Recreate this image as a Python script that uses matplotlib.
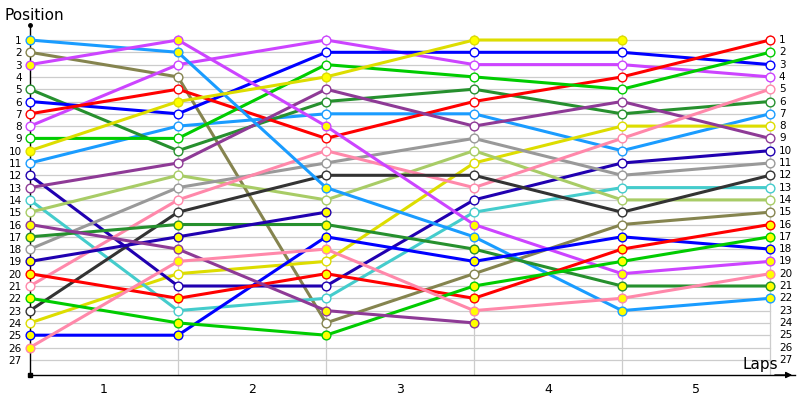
import numpy as np
import matplotlib
matplotlib.use("Agg")
import matplotlib.pyplot as plt

# lap boundaries (0 = start grid) and positions per driver; None = retired
laps = [0, 1, 2, 3, 4, 5]
lap_labels = ["1", "2", "3", "4", "5"]
n_positions = 27

drivers = ["lb_w", "olive_w", "violet_w", "dgreen_w", "blue_w", "red_w", "green_w",
           "yellow_w", "dblue_w", "purple_w", "turq_w", "lgreen_w", "gray_w", "pink_w", "black_w",
           "lb_y", "violet_y", "dgreen_y", "blue_y", "red_y", "green_y", "yellow_y",
           "dblue_y", "purple_y", "pink_y"]

positions = {
    "lb_w":     [11, 8, 7, 7, 10, 7],
    "olive_w":  [2, 4, 24, 20, 16, 15],
    "violet_w": [8, 3, 1, 3, 3, 4],
    "dgreen_w": [5, 10, 6, 5, 7, 6],
    "blue_w":   [6, 7, 2, 2, 2, 3],
    "red_w":    [7, 5, 9, 6, 4, 1],
    "green_w":  [9, 9, 3, 4, 5, 2],
    "yellow_w": [24, 20, 19, 11, 8, 8],
    "dblue_w":  [12, 21, 21, 14, 11, 10],
    "purple_w": [13, 11, 5, 8, 6, 9],
    "turq_w":   [14, 23, 22, 15, 13, 13],
    "lgreen_w": [15, 12, 14, 10, 14, 14],
    "gray_w":   [18, 13, 11, 9, 12, 11],
    "pink_w":   [21, 14, 10, 13, 9, 5],
    "black_w":  [23, 15, 12, 12, 15, 12],
    "lb_y":     [1, 2, 13, 17, 23, 22],
    "violet_y": [3, 1, 8, 16, 20, 19],
    "dgreen_y": [17, 16, 16, 18, 21, 21],
    "blue_y":   [25, 25, 17, 19, 17, 18],
    "red_y":    [20, 22, 20, 22, 18, 16],
    "green_y":  [22, 24, 25, 21, 19, 17],
    "yellow_y": [10, 6, 4, 1, 1, None],
    "dblue_y":  [19, 17, 15, None, None, None],
    "purple_y": [16, 18, 23, 24, None, None],
    "pink_y":   [26, 19, 18, 23, 22, 20],
}

colors = {
    "lb": "#1a9cff", "olive": "#85844f", "violet": "#cc44ff", "dgreen": "#26902e",
    "blue": "#0000ff", "red": "#ff0000", "green": "#00cc00", "yellow": "#dddd00",
    "dblue": "#2000b0", "purple": "#8e3a96", "turq": "#44cccc", "lgreen": "#a8cc66",
    "gray": "#999999", "pink": "#ff88aa", "black": "#333333",
}
faces = {"w": "white", "y": "#ffff00"}

fig = plt.figure(figsize=(8, 4), dpi=100)
ax = fig.add_axes([30 / 800, 25 / 400, 765 / 800, 350 / 400])
ax.set_xlim(0, 765 / 148)
ax.set_ylim(1 + 335 / 12.3, 1 - 15 / 12.3)

# grid
for p in range(1, n_positions + 1):
    ax.plot([0, 5], [p, p], color="#cccccc", lw=0.9, zorder=0)
for lp in laps[1:]:
    ax.axvline(lp, ymax=1 - 10 / 350, color="#cccccc", lw=0.9, zorder=0)

for d in drivers:
    team, kind = d.rsplit("_", 1)
    pos = positions[d]
    xs = [x for x, p in zip(laps, pos) if p is not None]
    ys = [p for p in pos if p is not None]
    ax.plot(xs, ys, color=colors[team], lw=2.2, marker="o", ms=6.3,
            mfc=faces[kind], mec=colors[team], mew=1.0, zorder=3, clip_on=False)

ax.spines["top"].set_visible(False)
ax.spines["right"].set_visible(False)
ax.spines["left"].set_linewidth(1.0)
ax.spines["bottom"].set_linewidth(1.0)

ax.set_yticks(range(1, n_positions + 1))
ax.set_yticklabels([str(p) for p in range(1, n_positions + 1)], fontsize=7.5)
ax.tick_params(axis="y", length=0, pad=6)
ax.set_xticks(np.arange(len(lap_labels)) + 0.5)
ax.set_xticklabels(lap_labels, fontsize=9)
ax.tick_params(axis="x", length=0, pad=6)

for p in range(1, n_positions + 1):
    ax.text(5.06, p, str(p), fontsize=7.5, va="center", ha="left")

# axis decorations
ax.plot([0], [1 - 15 / 12.3], marker="o", ms=2.5, color="black", clip_on=False)
ax.plot([0], [1 + 335 / 12.3], marker="s", ms=2.5, color="black", clip_on=False)
ax.annotate("", xy=(1.0, 0), xycoords="axes fraction", xytext=(0.97, 0),
            arrowprops=dict(arrowstyle="-|>", color="black", lw=1.0, mutation_scale=9))

fig.text(5 / 800, 1 - 15 / 400, "Position", fontsize=11, va="center", ha="left")
fig.text(742 / 800, 1 - 365 / 400, "Laps", fontsize=11, va="center", ha="left")

fig.savefig("out.png", dpi=100)
